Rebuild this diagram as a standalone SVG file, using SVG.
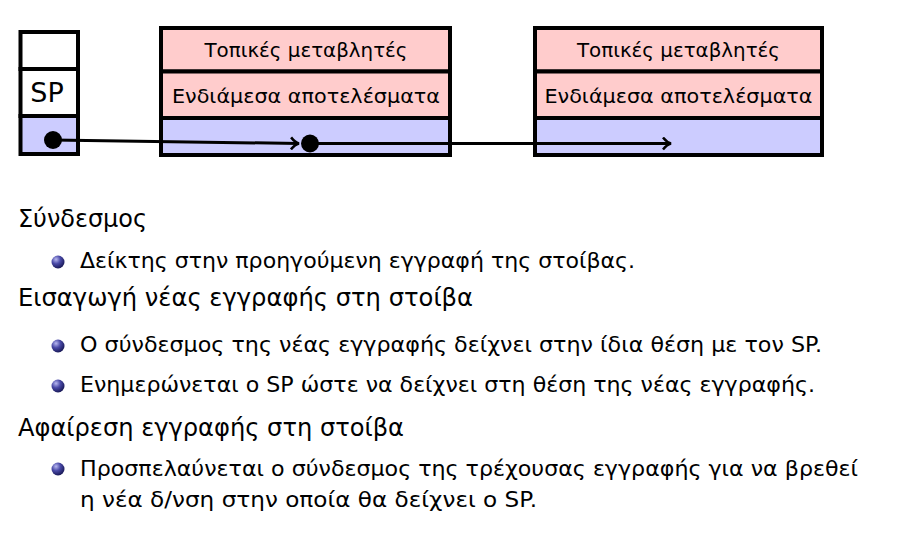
<svg xmlns="http://www.w3.org/2000/svg" width="901" height="544" viewBox="0 0 901 544">
<defs>
<style>
.box{stroke:#000;stroke-width:4}
.pink{fill:#FFCCCC}
.blue{fill:#CCCCFF}
.white{fill:#fff}
.bt{font-family:"DejaVu Sans","Liberation Sans",sans-serif;font-size:20px;fill:#000;text-anchor:middle}
.h{font-family:"DejaVu Sans","Liberation Sans",sans-serif;font-size:24px;fill:#000}
.b{font-family:"DejaVu Sans","Liberation Sans",sans-serif;font-size:21px;fill:#000}
.conn{stroke:#000;stroke-width:3;fill:none}
</style>
<radialGradient id="ball" cx="0.35" cy="0.3" r="0.75">
<stop offset="0" stop-color="#b8b8f0"/>
<stop offset="0.45" stop-color="#4a4aa8"/>
<stop offset="1" stop-color="#141450"/>
</radialGradient>
<marker id="arr" markerWidth="12" markerHeight="14" refX="10" refY="7" orient="auto" markerUnits="userSpaceOnUse">
<path d="M2,1 Q6,6 10,7 Q6,8 2,13" fill="none" stroke="#000" stroke-width="2.5"/>
</marker>
</defs>
<rect width="901" height="544" fill="#fff"/>

<g id="sp-stack">
<rect class="box white" x="20.5" y="32" width="57.5" height="37"/>
<rect class="box white" x="20.5" y="69" width="57.5" height="47"/>
<rect class="box blue" x="20.5" y="116" width="57.5" height="38"/>
<text x="47" y="102" style="font-family:'DejaVu Sans','Liberation Sans',sans-serif;font-size:27px;text-anchor:middle">SP</text>
</g>

<g id="record1">
<rect class="box pink" x="161" y="28" width="289" height="43.5"/>
<rect class="box pink" x="161" y="71.5" width="289" height="46.5"/>
<rect class="box blue" x="161" y="118" width="289" height="37"/>
<text class="bt" x="306" y="57" textLength="203" lengthAdjust="spacingAndGlyphs">Τοπικές μεταβλητές</text>
<text class="bt" x="306" y="103" textLength="268" lengthAdjust="spacingAndGlyphs">Ενδιάμεσα αποτελέσματα</text>
</g>

<g id="record2">
<rect class="box pink" x="535" y="28" width="287" height="43.5"/>
<rect class="box pink" x="535" y="71.5" width="287" height="46.5"/>
<rect class="box blue" x="535" y="118" width="287" height="37"/>
<text class="bt" x="678.5" y="57" textLength="203" lengthAdjust="spacingAndGlyphs">Τοπικές μεταβλητές</text>
<text class="bt" x="678.5" y="103" textLength="268" lengthAdjust="spacingAndGlyphs">Ενδιάμεσα αποτελέσματα</text>
</g>

<g id="connectors">
<line class="conn" x1="53" y1="140" x2="299" y2="143.5" marker-end="url(#arr)"/>
<line class="conn" x1="310" y1="143.5" x2="671" y2="143.5" marker-end="url(#arr)"/>
<circle cx="53" cy="140" r="9" fill="#000"/>
<circle cx="310" cy="143.5" r="9" fill="#000"/>
</g>

<g id="text">
<text class="h" x="18" y="227" textLength="129" lengthAdjust="spacingAndGlyphs">Σύνδεσμος</text>
<circle cx="58" cy="262" r="6.5" fill="url(#ball)"/>
<text class="b" x="80" y="268" textLength="555" lengthAdjust="spacingAndGlyphs">Δείκτης στην προηγούμενη εγγραφή της στοίβας.</text>
<text class="h" x="18" y="306" textLength="455" lengthAdjust="spacingAndGlyphs">Εισαγωγή νέας εγγραφής στη στοίβα</text>
<circle cx="58" cy="346" r="6.5" fill="url(#ball)"/>
<text class="b" x="80" y="352" textLength="742" lengthAdjust="spacingAndGlyphs">Ο σύνδεσμος της νέας εγγραφής δείχνει στην ίδια θέση με τον SP.</text>
<circle cx="58" cy="386" r="6.5" fill="url(#ball)"/>
<text class="b" x="80" y="392" textLength="735" lengthAdjust="spacingAndGlyphs">Ενημερώνεται ο SP ώστε να δείχνει στη θέση της νέας εγγραφής.</text>
<text class="h" x="18" y="436" textLength="386" lengthAdjust="spacingAndGlyphs">Αφαίρεση εγγραφής στη στοίβα</text>
<circle cx="58" cy="469" r="6.5" fill="url(#ball)"/>
<text class="b" x="80" y="476" textLength="778" lengthAdjust="spacingAndGlyphs">Προσπελαύνεται ο σύνδεσμος της τρέχουσας εγγραφής για να βρεθεί</text>
<text class="b" x="80" y="507" textLength="457" lengthAdjust="spacingAndGlyphs">η νέα δ/νση στην οποία θα δείχνει ο SP.</text>
</g>
</svg>
